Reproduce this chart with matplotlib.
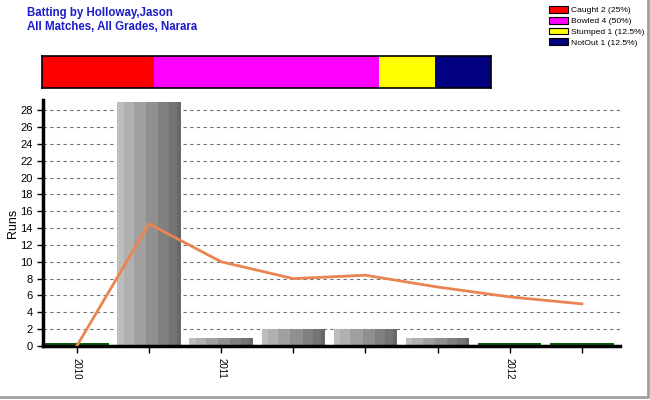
import matplotlib.pyplot as plt
from matplotlib.patches import Patch
from matplotlib.lines import Line2D

plt.rcParams['font.family'] = ['Liberation Sans', 'DejaVu Sans']

# 每局得分
runs = [0, 29, 1, 2, 2, 1, 0, 0]
# 平均分折线
average = [0, 14.5, 10, 8, 8.4, 7, 5.83, 5]
tick_labels = ['2010', '', '2011', '', '', '', '2012', '']

# 出局方式
how_out = ['Caught', 'Bowled', 'Stumped', 'NotOut']
how_count = [2, 4, 1, 1]
how_colors = ['#ff0000', '#ff00ff', '#ffff00', '#000080']

# 柱子渐变色
shades = ['#bdbdbd', '#b0b0b0', '#a0a0a0', '#909090', '#808080', '#747474', '#686868']
shade_w = [0.07, 0.11, 0.13, 0.13, 0.11, 0.09, 0.04]

fig = plt.figure(figsize=(6.5, 4), dpi=100)
# 右边和下边的灰色边框
fig.lines.append(Line2D([0, 0.997, 0.997], [0.007, 0.007, 1], transform=fig.transFigure,
                        color='#a0a0a0', linewidth=2))

fig.text(0.042, 0.968, 'Batting by Holloway,Jason', color='#1c1cc8', fontsize=8.3,
         fontweight='bold', va='center')
fig.text(0.042, 0.933, 'All Matches, All Grades, Narara', color='#1c1cc8', fontsize=8.3,
         fontweight='bold', va='center')

# 顶部出局条
ax_s = fig.add_axes([0.0646, 0.78, 0.691, 0.08])
left = 0
for n, c in zip(how_count, how_colors):
    ax_s.barh(0, n, left=left, height=1, color=c, edgecolor='none')
    left += n
ax_s.set_xlim(0, sum(how_count))
ax_s.set_ylim(-0.5, 0.5)
ax_s.set_xticks([])
ax_s.set_yticks([])
for s in ax_s.spines.values():
    s.set_linewidth(1.2)

handles = [Patch(facecolor=c, edgecolor='black', linewidth=0.8,
                 label='%s %d (%g%%)' % (h, n, 100.0 * n / sum(how_count)))
           for h, n, c in zip(how_out, how_count, how_colors)]
fig.legend(handles=handles, loc='upper left', bbox_to_anchor=(0.836, 1.0), frameon=False,
           fontsize=6.1, handlelength=2.2, handleheight=0.85, handletextpad=0.4,
           labelspacing=0.3, borderaxespad=0.3)

# 主图
ax = fig.add_axes([0.066, 0.135, 0.888, 0.615])
x = list(range(len(runs)))
width = 0.88
for i, r in enumerate(runs):
    if r == 0:
        ax.bar(i, 0.4, width=width, color='#0b5e0b', edgecolor='none')
        continue
    start = i - width / 2
    for c, w in zip(shades, shade_w):
        ax.bar(start, r, width=w * width / sum(shade_w), align='edge', color=c,
               edgecolor='none')
        start += w * width / sum(shade_w)

ax.plot(x, average, color='#ea8450', linewidth=2, zorder=5)

ax.set_xlim(-0.47, 7.53)
ax.set_ylim(0, 29.2)
ax.set_yticks(range(0, 29, 2))
ax.set_xticks(x)
ax.set_xticklabels(tick_labels, rotation=270, fontsize=7)
ax.tick_params(axis='y', labelsize=8, length=4, width=1)
ax.tick_params(axis='x', length=5, width=1)
ax.yaxis.grid(True, linestyle=(0, (3, 3)), color='#707070', linewidth=0.8)
ax.set_axisbelow(True)
ax.spines['top'].set_visible(False)
ax.spines['right'].set_visible(False)
ax.spines['left'].set_linewidth(2.5)
ax.spines['bottom'].set_linewidth(2.5)
ax.set_ylabel('Runs', fontsize=9, labelpad=1)

fig.savefig('out.png', dpi=100)
